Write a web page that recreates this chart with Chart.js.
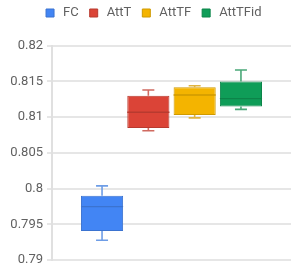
<!DOCTYPE html>
<html>
<head>
<meta charset="utf-8">
<script src="https://cdn.jsdelivr.net/npm/chart.js@4"></script>
<style>
  html, body { margin: 0; padding: 0; background: #fff; }
  #frame { width: 291px; height: 265px; overflow: hidden; }
  #wrap { width: 291px; height: 272px; }
</style>
</head>
<body>
<div id="frame"><div id="wrap"><canvas id="box-chart"></canvas></div></div>
<script>
// box plot values
const seriesNames = ['FC', 'AttT', 'AttTF', 'AttTFid'];
const mins    = [0.7928, 0.8081, 0.8099, 0.8111];
const q1s     = [0.7941, 0.8085, 0.8103, 0.8115];
const medians = [0.7975, 0.8107, 0.8131, 0.8126];
const q3s     = [0.7990, 0.8130, 0.8142, 0.8150];
const maxs    = [0.8004, 0.8138, 0.8144, 0.8166];
const yTicks  = [0.79, 0.795, 0.8, 0.805, 0.81, 0.815, 0.82];

const fills   = ['#4285f4', '#db4437', '#f4b400', '#0f9d58'];
const borders = ['#3b73d0', '#b83a2f', '#cf9a00', '#0c8449'];
const whisk   = ['#6e9de6', '#d06a60', '#e0b440', '#4aa878'];

// whiskers + median lines drawn from the bar elements and the y scale
const boxParts = {
    id: 'boxParts',
    afterDatasetsDraw(chart) {
        const ctx = chart.ctx;
        const y = chart.scales.y;
        chart.data.datasets.forEach(function(ds, i) {
            const bar = chart.getDatasetMeta(i).data[0];
            if (!bar) return;
            const cx = bar.x;
            const half = bar.width / 2;
            const cap = 6;
            ctx.save();
            ctx.strokeStyle = whisk[i];
            ctx.lineWidth = 1.6;
            ctx.beginPath();
            ctx.moveTo(cx, y.getPixelForValue(q3s[i]));
            ctx.lineTo(cx, y.getPixelForValue(maxs[i]));
            ctx.moveTo(cx - cap, y.getPixelForValue(maxs[i]));
            ctx.lineTo(cx + cap, y.getPixelForValue(maxs[i]));
            ctx.moveTo(cx, y.getPixelForValue(q1s[i]));
            ctx.lineTo(cx, y.getPixelForValue(mins[i]));
            ctx.moveTo(cx - cap, y.getPixelForValue(mins[i]));
            ctx.lineTo(cx + cap, y.getPixelForValue(mins[i]));
            ctx.stroke();
            // median
            ctx.strokeStyle = borders[i];
            ctx.lineWidth = 1.4;
            ctx.beginPath();
            ctx.moveTo(cx - half, y.getPixelForValue(medians[i]));
            ctx.lineTo(cx + half, y.getPixelForValue(medians[i]));
            ctx.stroke();
            ctx.restore();
        });
    }
};

// extra room under the legend, and nudge it a bit to the right
const legendGap = {
    id: 'legendGap',
    beforeInit(chart) {
        const fit = chart.legend.fit;
        chart.legend.fit = function() {
            fit.bind(chart.legend)();
            this.height = 47.7;
        };
    },
    afterLayout(chart) {
        chart.legend.left += 8;
    }
};

const datasets = seriesNames.map(function(name, i) {
    return {
        label: name,
        data: [[q1s[i], q3s[i]]],
        backgroundColor: fills[i],
        borderColor: borders[i],
        borderWidth: 1,
        borderSkipped: false,
        categoryPercentage: 0.775,
        barPercentage: 0.91
    };
});

const ctx = document.getElementById('box-chart').getContext('2d');
new Chart(ctx, {
    type: 'bar',
    data: { labels: [''], datasets: datasets },
    plugins: [legendGap, boxParts],
    options: {
        responsive: true,
        maintainAspectRatio: false,
        animation: false,
        layout: { padding: { left: 6, right: 0, top: -2, bottom: 0 } },
        plugins: {
            tooltip: { enabled: false },
            legend: {
                position: 'top',
                labels: {
                    usePointStyle: true,
                    pointStyle: 'rect',
                    boxWidth: 13,
                    boxHeight: 8,
                    padding: 8.5,
                    color: '#616161',
                    font: { family: 'Roboto', size: 13 }
                }
            }
        },
        scales: {
            x: { display: false },
            y: {
                min: yTicks[0],
                max: yTicks[yTicks.length - 1],
                afterBuildTicks: function(axis) {
                    axis.ticks = yTicks.map(function(v) { return { value: v }; });
                },
                afterFit: function(axis) { axis.width = 46; },
                grid: { color: '#e6e6e6', lineWidth: 2, tickLength: 5 },
                border: { color: '#e0e0e0', width: 2 },
                ticks: {
                    color: '#616161',
                    padding: 4,
                    font: { family: 'Roboto', size: 13 },
                    callback: function(v) { return String(parseFloat(v.toFixed(3))); }
                }
            }
        }
    }
});
</script>
</body>
</html>
